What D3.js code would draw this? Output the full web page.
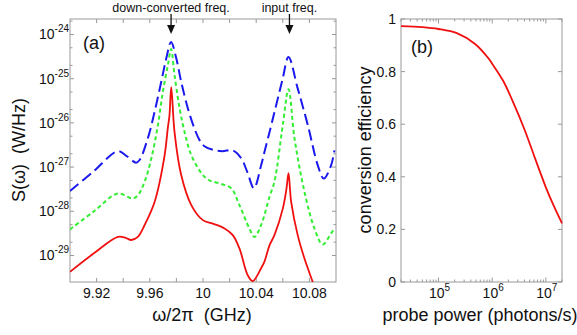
<!DOCTYPE html>
<html>
<head>
<meta charset="utf-8">
<script src="https://cdn.jsdelivr.net/npm/d3@7"></script>
<style>
  body { margin:0; background:#fff; }
  svg text { font-family: "Liberation Sans", Arial, sans-serif; fill:#111; white-space: pre; }
</style>
</head>
<body>
<svg id="chart" width="577" height="335"></svg>
<script>
// ---- panel (a): spectra, frequency in GHz, log10 of S(w) in W/Hz
var blueFreq = [9.900,9.918,9.936,9.9425,9.9497,9.9523,9.9585,9.9636,9.9686,9.9724,9.976,9.9799,9.9836,9.9886,9.9936,9.9974,10.0011,10.0087,10.0147,10.0222,10.0287,10.0334,10.0383,10.0437,10.0462,10.050,10.0537,10.0597,10.0643,10.0712,10.0788,10.0863,10.0908,10.0963,10.0988];
var blueLogS = [-27.54,-27.09,-26.64,-26.75,-26.90,-26.84,-26.35,-25.75,-25.07,-24.54,-24.17,-24.54,-25.07,-25.67,-26.13,-26.39,-26.53,-26.62,-26.64,-26.62,-26.80,-27.12,-27.48,-26.96,-26.66,-26.21,-25.76,-25.03,-24.51,-25.22,-26.05,-26.96,-27.26,-26.96,-26.62];

var greenFreq = [9.900,9.918,9.936,9.947,9.951,9.9561,9.9611,9.9661,9.9698,9.9736,9.976,9.9786,9.9824,9.9861,9.9912,9.9999,10.0049,10.0124,10.0212,10.0274,10.0349,10.0387,10.0437,10.050,10.0537,10.060,10.0643,10.0688,10.0763,10.0838,10.090,10.0963,10.0988];
var greenLogS = [-28.41,-28.00,-27.60,-27.71,-27.64,-27.33,-26.81,-26.05,-25.30,-24.69,-24.33,-24.92,-25.67,-26.20,-26.73,-27.18,-27.30,-27.37,-27.48,-27.86,-28.39,-28.58,-28.31,-27.67,-27.33,-26.05,-25.24,-26.35,-27.56,-28.39,-28.75,-28.50,-28.39];

var redFreq = [9.900,9.918,9.936,9.9418,9.946,9.951,9.9561,9.9636,9.9711,9.9736,9.9748,9.9761,9.9786,9.9836,9.9912,9.9999,10.0074,10.0162,10.0224,10.0274,10.0337,10.0374,10.0437,10.0462,10.050,10.0537,10.060,10.0628,10.0643,10.0663,10.0712,10.0763,10.0825,10.086];
var redLogS = [-29.37,-28.95,-28.58,-28.60,-28.65,-28.58,-28.31,-27.79,-26.74,-26.10,-25.83,-25.19,-26.21,-27.18,-27.86,-28.20,-28.28,-28.39,-28.54,-28.84,-29.45,-29.58,-29.29,-29.14,-28.77,-28.54,-27.94,-27.48,-27.14,-27.79,-28.54,-29.07,-29.60,-29.90];

var freqTickLabels = [9.92, 9.96, 10, 10.04, 10.08];
var freqMinorTicks = [9.92, 9.94, 9.96, 9.98, 10, 10.02, 10.04, 10.06, 10.08];
var sExponents = [-24, -25, -26, -27, -28, -29];

// ---- panel (b): conversion efficiency vs probe power
var probePower = [2e4, 5e4, 1e5, 2.2e5, 4.8e5, 8.4e5, 1e6, 1.6e6, 2.5e6, 4e6, 6.3e6, 1e7, 1.4e7, 2e7];
var efficiency = [0.973, 0.969, 0.962, 0.946, 0.905, 0.852, 0.830, 0.765, 0.680, 0.580, 0.470, 0.360, 0.290, 0.223];
var effTicks = [0, 0.2, 0.4, 0.6, 0.8, 1];
var powerExponents = [5, 6, 7];

var svg = d3.select("#chart");
var axisCol = "#999";

// ================= panel (a)
var A = {left:70, right:336, top:19, bottom:282};
var xa = d3.scaleLinear().domain([9.9, 10.1]).range([A.left, A.right]);
var ya = d3.scaleLog().domain([Math.pow(10,-29.6), Math.pow(10,-23.65)]).range([A.bottom, A.top]);

svg.append("clipPath").attr("id","clipA").append("rect")
   .attr("x",A.left).attr("y",A.top).attr("width",A.right-A.left).attr("height",A.bottom-A.top);

var ga = svg.append("g");
// ticks: x every 0.02 bottom/top, inward
freqMinorTicks.forEach(function(f) {
  var x = xa(f);
  ga.append("line").attr("x1",x).attr("x2",x).attr("y1",A.bottom).attr("y2",A.bottom-4).attr("stroke",axisCol);
  ga.append("line").attr("x1",x).attr("x2",x).attr("y1",A.top).attr("y2",A.top+4).attr("stroke",axisCol);
});
freqTickLabels.forEach(function(f) {
  ga.append("text").attr("x",xa(f)).attr("y",298).attr("text-anchor","middle")
    .attr("font-size",14).text(f === 10 ? "10" : f.toFixed(2));
});
// y ticks: majors and minors at 2 and 5
sExponents.forEach(function(e) {
  var y = ya(Math.pow(10,e));
  ga.append("line").attr("x1",A.left).attr("x2",A.left+4).attr("y1",y).attr("y2",y).attr("stroke",axisCol);
  ga.append("line").attr("x1",A.right).attr("x2",A.right-4).attr("y1",y).attr("y2",y).attr("stroke",axisCol);
  [2,5].forEach(function(m) {
    var v = m*Math.pow(10,e);
    if (v > ya.domain()[1] || v < ya.domain()[0]) return;
    var ym = ya(v);
    ga.append("line").attr("x1",A.left).attr("x2",A.left+2.5).attr("y1",ym).attr("y2",ym).attr("stroke",axisCol);
    ga.append("line").attr("x1",A.right).attr("x2",A.right-2.5).attr("y1",ym).attr("y2",ym).attr("stroke",axisCol);
  });
  var t = ga.append("text").attr("x",A.left-1).attr("y",y+5).attr("text-anchor","end").attr("font-size",14);
  t.append("tspan").text("10");
  t.append("tspan").attr("dy",-7).attr("font-size",10).text(e);
});
ga.append("rect").attr("x",A.left).attr("y",A.top).attr("width",A.right-A.left).attr("height",A.bottom-A.top)
  .attr("fill","none").attr("stroke",axisCol).attr("stroke-width",1);

function lineA(fr, ls) {
  var pts = fr.map(function(f,i){ return [f, Math.pow(10, ls[i])]; });
  return d3.line().x(function(d){ return xa(d[0]); }).y(function(d){ return ya(d[1]); })
           .curve(d3.curveCatmullRom.alpha(0.5))(pts);
}
var curves = ga.append("g").attr("clip-path","url(#clipA)");
curves.append("path").attr("d", lineA(redFreq, redLogS)).attr("fill","none")
  .attr("stroke","#f01010").attr("stroke-width",1.8);
curves.append("path").attr("d", lineA(greenFreq, greenLogS)).attr("fill","none")
  .attr("stroke","#33ee33").attr("stroke-width",2).attr("stroke-dasharray","4,3");
curves.append("path").attr("d", lineA(blueFreq, blueLogS)).attr("fill","none")
  .attr("stroke","#1a1aee").attr("stroke-width",2).attr("stroke-dasharray","11,5");

ga.append("text").attr("x",A.left+13).attr("y",49).attr("font-size",18).text("(a)");

// arrows and labels above panel (a)
function arrow(f, label) {
  var x = xa(f);
  ga.append("line").attr("x1",x).attr("x2",x).attr("y1",14).attr("y2",27).attr("stroke","#111").attr("stroke-width",1.3);
  ga.append("path").attr("d","M"+(x-4)+",25L"+(x+4)+",25L"+x+",34Z").attr("fill","#111");
  ga.append("text").attr("x",x).attr("y",11.5).attr("text-anchor","middle").attr("font-size",12.5).text(label);
}
arrow(9.976, "down-converted freq.");
arrow(10.065, "input freq.");

// axis titles
ga.append("text").attr("transform","translate(25,150) rotate(-90)").attr("text-anchor","middle")
  .attr("font-size",18).text("S(\u03c9)  (W/Hz)");
ga.append("text").attr("x",202).attr("y",321).attr("text-anchor","middle")
  .attr("font-size",18).text("\u03c9/2\u03c0  (GHz)");

// ================= panel (b)
var B = {left:401, right:562, top:19, bottom:282};
var xb = d3.scaleLog().domain([2e4, 2e7]).range([B.left, B.right]);
var yb = d3.scaleLinear().domain([0, 1]).range([B.bottom, B.top]);
var gb = svg.append("g");

// log ticks, majors a bit longer
for (var e = 4; e <= 7; e++) {
  for (var m = 1; m <= 9; m++) {
    var v = m*Math.pow(10,e);
    if (v < 2e4 || v > 2e7) continue;
    var x = xb(v);
    var len = (m === 1) ? 4.5 : 2.5;
    gb.append("line").attr("x1",x).attr("x2",x).attr("y1",B.bottom).attr("y2",B.bottom-len).attr("stroke",axisCol);
    gb.append("line").attr("x1",x).attr("x2",x).attr("y1",B.top).attr("y2",B.top+len).attr("stroke",axisCol);
  }
}
powerExponents.forEach(function(e) {
  var t = gb.append("text").attr("x",xb(Math.pow(10,e))+1).attr("y",298).attr("text-anchor","middle").attr("font-size",14);
  t.append("tspan").text("10");
  t.append("tspan").attr("dy",-7).attr("font-size",10).text(e);
});
effTicks.forEach(function(v) {
  var y = yb(v);
  gb.append("line").attr("x1",B.left).attr("x2",B.left+4).attr("y1",y).attr("y2",y).attr("stroke",axisCol);
  gb.append("line").attr("x1",B.right).attr("x2",B.right-4).attr("y1",y).attr("y2",y).attr("stroke",axisCol);
  gb.append("text").attr("x",B.left-5).attr("y",y+5).attr("text-anchor","end").attr("font-size",14)
    .text(v === 0 ? "0" : v === 1 ? "1" : d3.format(".1f")(v));
});
gb.append("rect").attr("x",B.left).attr("y",B.top).attr("width",B.right-B.left).attr("height",B.bottom-B.top)
  .attr("fill","none").attr("stroke",axisCol).attr("stroke-width",1);

var effLine = d3.line().x(function(d,i){ return xb(probePower[i]); }).y(function(d){ return yb(d); })
  .curve(d3.curveCatmullRom.alpha(0.5));
gb.append("path").attr("d", effLine(efficiency)).attr("fill","none").attr("stroke","#f01010").attr("stroke-width",1.8);

gb.append("text").attr("x",B.left+10).attr("y",53).attr("font-size",18).text("(b)");
gb.append("text").attr("transform","translate(371,150) rotate(-90)").attr("text-anchor","middle")
  .attr("font-size",18).text("conversion efficiency");
gb.append("text").attr("x",480).attr("y",321).attr("text-anchor","middle")
  .attr("font-size",18).text("probe power (photons/s)");
</script>
</body>
</html>
